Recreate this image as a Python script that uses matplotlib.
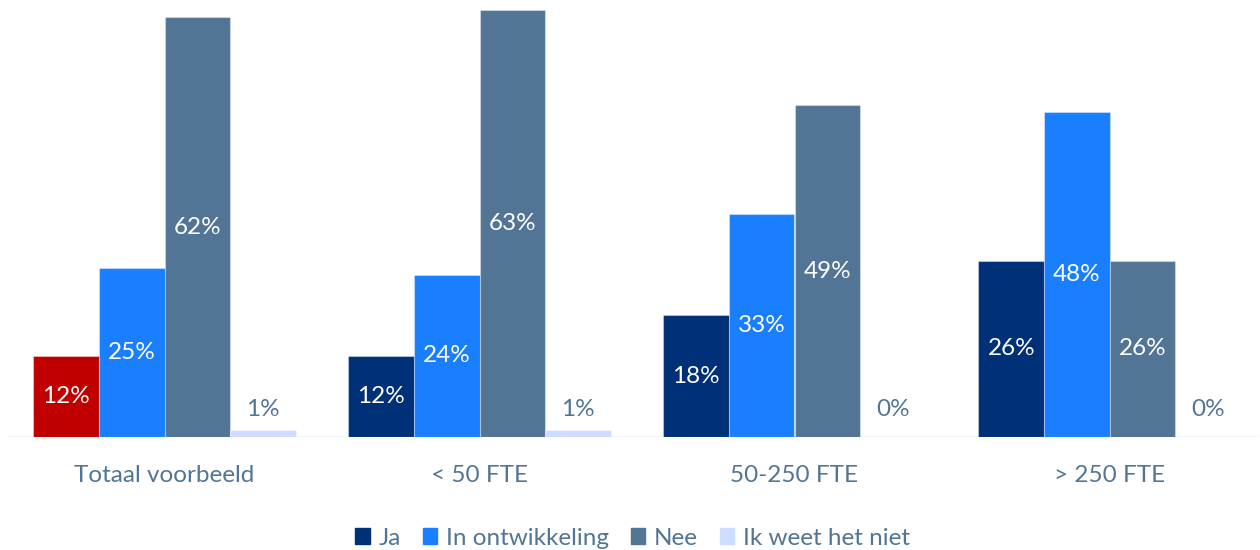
import matplotlib.pyplot as plt
import numpy as np
from matplotlib.patches import Patch

plt.rcParams['font.family'] = ['Lato', 'DejaVu Sans']

groups = ["Totaal voorbeeld", "< 50 FTE", "50-250 FTE", "> 250 FTE"]
series = ["Ja", "In ontwikkeling", "Nee", "Ik weet het niet"]
ja = [12, 12, 18, 26]
ontwikkeling = [25, 24, 33, 48]
nee = [62, 63, 49, 26]
weet_niet = [1, 1, 0, 0]

colors = ["#003078", "#1A7FFF", "#527596", "#D0DCFF"]
text_col = "#527596"
fs = 17.5

fig = plt.figure(figsize=(12.6, 5.5), dpi=100)
ax = fig.add_axes([7 / 1260, 113 / 550, 1251 / 1260, 430 / 550])

x = np.arange(len(groups))
w = 0.208
values = [ja, ontwikkeling, nee, weet_niet]
for i, (name, vals, c) in enumerate(zip(series, values, colors)):
    pos = x + (i - 1.5) * w
    bars = ax.bar(pos, vals, w, color=c,
                  edgecolor=(1, 1, 1, 0.35), linewidth=0.8)
    if i == 0:
        # the overall group is highlighted in red
        bars[0].set_facecolor("#C00000")
    for p, v in zip(pos, vals):
        if v >= 5:
            ax.text(p, v / 2, f"{v}%", ha="center", va="center",
                    color="white", fontsize=fs)
        else:
            ax.text(p, 4, f"{v}%", ha="center", va="center",
                    color=text_col, fontsize=fs)

ax.set_xlim(-0.5, -0.5 + 1251 / 315)
ax.set_ylim(0, 430 / 6.77)
ax.axhline(0, color="#EEF3FA", lw=2, zorder=0)
for s in ax.spines.values():
    s.set_visible(False)
ax.set_yticks([])
ax.set_xticks(x)
ax.set_xticklabels(groups, fontsize=fs, color=text_col)
ax.tick_params(axis="x", length=0, pad=20)

handles = [Patch(color=c, label=n) for n, c in zip(series, colors)]
ax.legend(handles=handles, loc="center", bbox_to_anchor=(0.5, -0.235),
          ncol=4, frameon=False, fontsize=fs, labelcolor=text_col,
          handlelength=0.6, handleheight=0.6, handletextpad=0.35,
          columnspacing=0.9)

fig.savefig("out.png", dpi=100)
